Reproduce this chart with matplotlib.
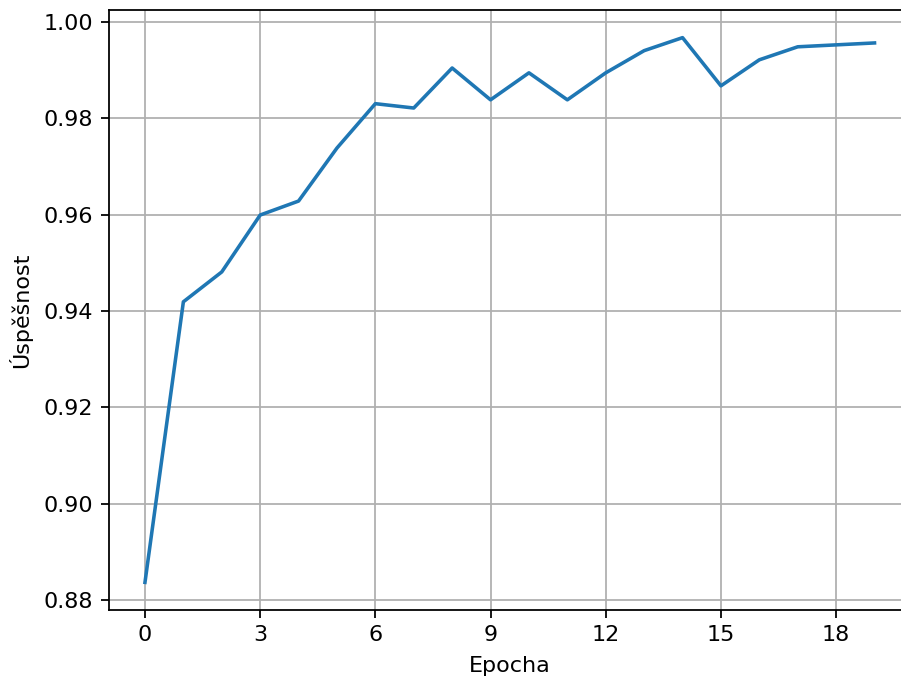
import matplotlib
matplotlib.use("Agg")
import matplotlib.pyplot as plt
from matplotlib.ticker import MaxNLocator

# validation accuracy per epoch
epochs = list(range(20))
accuracy = [0.8837, 0.9419, 0.9481, 0.9599, 0.9628, 0.9738, 0.9830, 0.9821,
            0.9904, 0.9838, 0.9894, 0.9838, 0.9894, 0.9940, 0.9967, 0.9867,
            0.9921, 0.9948, 0.9952, 0.9956]

DPI = 160
fig = plt.figure(figsize=(901 / DPI, 678 / DPI), dpi=DPI)
ax = fig.add_axes([108.5 / 901, 1 - 609.6 / 678, (911 - 108.5) / 901, (609.6 - 10.4) / 678])
ax.plot(epochs, accuracy, color="#1f77b4", linewidth=1.6)
ax.xaxis.set_major_locator(MaxNLocator(integer=True))
ax.set_xlabel("Epocha", labelpad=5)
ax.set_ylabel("Úspěšnost", labelpad=5)
ax.grid(True)

fig.savefig("out.png", dpi=DPI)
